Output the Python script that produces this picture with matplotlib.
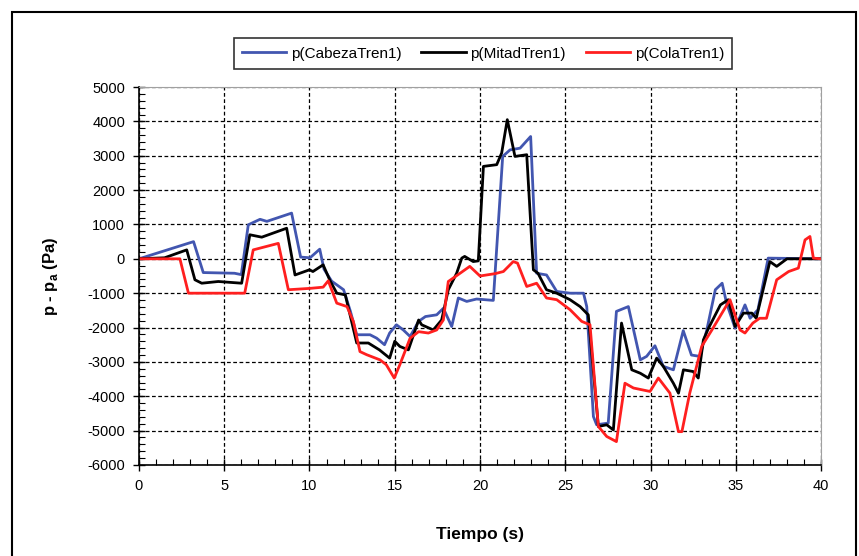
import matplotlib
matplotlib.use("Agg")
import matplotlib.pyplot as plt
from matplotlib.patches import Rectangle
from matplotlib.ticker import MultipleLocator

plt.rcParams['font.family'] = ['Liberation Sans', 'DejaVu Sans']
plt.rcParams['mathtext.fontset'] = 'custom'
plt.rcParams['mathtext.rm'] = 'Liberation Sans'
plt.rcParams['mathtext.bf'] = 'Liberation Sans:bold'
plt.rcParams['axes.unicode_minus'] = False

# datos
t_cabeza = [0, 3.2, 3.77, 5.6, 6.0, 6.41, 7.1, 7.5, 8.95, 9.48, 10.03, 10.6, 10.85,
            11.3, 12.0, 12.4, 12.77, 13.55, 13.94, 14.4, 14.7, 15.1, 15.5, 15.9,
            16.4, 16.8, 17.46, 17.85, 18.34, 18.73, 19.22, 19.8, 20.78, 21.33,
            21.76, 22.35, 22.97, 23.32, 23.9, 24.5, 25.28, 26.07, 26.26, 26.65,
            26.84, 27.52, 28.0, 28.7, 29.4, 29.77, 30.26, 30.75, 31.34, 31.92,
            32.4, 32.9, 33.3, 33.8, 34.2, 34.46, 34.96, 35.25, 35.54, 35.84,
            36.3, 36.9, 40]
p_cabeza = [0, 500, -400, -420, -460, 990, 1150, 1090, 1330, 50, 30, 280, -300,
            -650, -900, -1530, -2210, -2210, -2310, -2500, -2160, -1920, -2070,
            -2260, -1820, -1680, -1630, -1440, -1970, -1140, -1240, -1170, -1210,
            2980, 3170, 3220, 3560, -420, -470, -950, -1000, -1000, -1390, -4590,
            -4830, -4780, -1530, -1390, -2940, -2840, -2530, -3130, -3230, -2090,
            -2800, -2840, -2070, -900, -710, -1290, -2020, -1680, -1340, -1730,
            -1480, 20, 0]

t_mitad = [0, 1.5, 2.8, 3.28, 3.68, 4.65, 6.02, 6.5, 7.2, 8.66, 9.15, 10.0, 10.2,
           10.8, 11.2, 11.6, 12.1, 12.77, 13.45, 14.1, 14.7, 15.0, 15.3, 15.8,
           16.4, 16.58, 17.26, 17.75, 18.14, 18.63, 18.93, 19.1, 19.6, 19.9,
           20.2, 20.98, 21.27, 21.6, 22.05, 22.74, 23.13, 23.4, 23.9, 24.5,
           25.28, 25.87, 26.35, 26.94, 27.43, 27.82, 28.3, 28.9, 29.4, 29.87,
           30.36, 30.75, 31.34, 31.64, 31.93, 32.5, 32.8, 33.1, 33.4, 34.1,
           34.56, 34.96, 35.45, 35.94, 36.2, 37.0, 37.4, 38.0, 40]
p_mitad = [0, 30, 260, -610, -710, -660, -710, 700, 630, 890, -470, -320, -370,
           -175, -630, -1000, -1050, -2450, -2450, -2650, -2890, -2400, -2550,
           -2650, -1780, -1920, -2070, -1780, -900, -420, 20, 70, -80, -60,
           2690, 2740, 3080, 4050, 2980, 3030, -320, -420, -900, -1000, -1190,
           -1390, -1630, -4880, -4830, -4980, -1870, -3230, -3330, -3470, -2890,
           -3130, -3620, -3910, -3230, -3280, -3470, -2360, -2020, -1340, -1190,
           -1970, -1580, -1580, -1730, -80, -220, 0, 0]

t_cola = [0, 2.4, 2.9, 6.2, 6.7, 8.17, 8.76, 10.03, 10.8, 11.1, 11.6, 12.2, 12.57,
          12.96, 13.35, 14.13, 14.5, 14.97, 15.3, 15.9, 16.4, 16.97, 17.46, 17.85,
          18.14, 18.83, 19.4, 20.0, 20.9, 21.37, 21.95, 22.2, 22.74, 23.32,
          23.9, 24.5, 25.28, 25.96, 26.45, 26.94, 27.43, 28.0, 28.5, 29.0, 29.97,
          30.46, 31.14, 31.64, 31.84, 32.3, 33.0, 33.6, 34.66, 35.25, 35.54,
          36.0, 36.4, 36.8, 37.4, 38.1, 38.67, 39.06, 39.35, 39.55, 40]
p_cola = [0, 0, -1000, -1000, 260, 450, -900, -860, -825, -640, -1290, -1390,
          -1820, -2700, -2790, -2940, -3080, -3470, -3080, -2310, -2120, -2160,
          -2070, -1780, -660, -420, -220, -500, -430, -370, -80, -125, -805,
          -710, -1140, -1190, -1480, -1820, -1920, -4880, -5170, -5320, -3620,
          -3760, -3860, -3470, -3910, -5030, -5030, -3910, -2550, -2070, -1190,
          -2070, -2160, -1870, -1730, -1730, -610, -370, -270, 550, 650, 20, 0]

series = [
    (t_cabeza, p_cabeza, 'p(CabezaTren1)', '#4256b0'),
    (t_mitad, p_mitad, 'p(MitadTren1)', '#000000'),
    (t_cola, p_cola, 'p(ColaTren1)', '#ff1f1f'),
]

fig = plt.figure(figsize=(8.59, 5.56), dpi=100)
ax = fig.add_axes([0.1618, 0.1637, 0.7940, 0.6798])

for t, p, lab, col in series:
    ax.plot(t, p, color=col, lw=2.0, label=lab)

ax.set_xlim(0, 40)
ax.set_ylim(-6000, 5000)
ax.xaxis.set_major_locator(MultipleLocator(5))
ax.xaxis.set_minor_locator(MultipleLocator(1))
ax.yaxis.set_major_locator(MultipleLocator(1000))
ax.yaxis.set_minor_locator(MultipleLocator(200))
ax.grid(True, which='major', color='black', ls=(0, (3, 2)), lw=0.9)
ax.tick_params(which='major', direction='inout', length=8, width=1, labelsize=10.5, pad=6)
ax.tick_params(which='minor', direction='in', length=4, width=0.8)
for s in ['top', 'right']:
    ax.spines[s].set_color('#a0a0a0')
    ax.spines[s].set_linewidth(0.8)
for s in ['left', 'bottom']:
    ax.spines[s].set_linewidth(1.2)

ax.set_xlabel('Tiempo (s)', fontsize=12.5, fontweight='bold')
ax.set_ylabel(r'p - p$_\mathregular{a}$ (Pa)', fontsize=12, fontweight='bold')
ax.xaxis.set_label_coords(0.5, -0.164)
ax.yaxis.set_label_coords(-0.116, 0.5)

leg = fig.legend(loc='lower center', bbox_to_anchor=(0.5623, 0.862), ncol=3,
                 fontsize=11, frameon=True, fancybox=False, edgecolor='black',
                 handlelength=2.9, columnspacing=1.3, handletextpad=0.3,
                 borderpad=0.55)
leg.get_frame().set_linewidth(1.2)

fig.patches.append(Rectangle((12 / 859, -0.02), 844 / 859, 1 - 12 / 556 + 0.02,
                             transform=fig.transFigure, fill=False,
                             edgecolor='black', lw=1.5))

fig.savefig('out.png', dpi=100)
